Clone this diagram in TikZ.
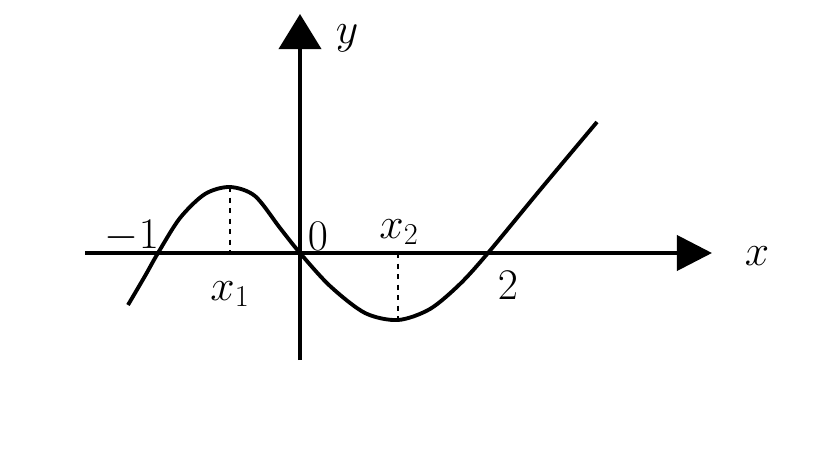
\documentclass[tikz,border=0pt]{standalone}
\usetikzlibrary{arrows.meta}
\begin{document}
\begin{tikzpicture}[x=0.02cm,y=-0.02cm,line width=2.2pt,
  lbl/.style={font=\fontsize{24}{26}\selectfont}]
  \useasboundingbox (0,0) rectangle (819,460);
  % axes
  \draw[-{Triangle[length=20pt,width=20pt]}] (85,253) -- (712,253);
  \draw[-{Triangle[length=20pt,width=24pt]}] (300,360) -- (300,14);
  % curve
  \draw plot[smooth,tension=0.5] coordinates {(128,305) (145,276) (158,253) (180,218) (205,194) (230,187) (255,196) (280,228) (300,253) (330,286) (365,313) (398,320) (430,309) (460,284) (488,253) (540,190) (597,122)};
  \draw[dashed,line width=1.5pt] (230,187) -- (230,253);
  \draw[dashed,line width=1.5pt] (398,253) -- (398,320);
  % labels
  \node[lbl] (m1) at (132,236) {$-1$};
  \node[lbl] (o) at (318,236) {$0$};
  \node[lbl] (x2) at (399,232) {$x_2$};
  \node[lbl] (x1) at (230,294) {$x_1$};
  \node[lbl] (t) at (508,285) {$2$};
  \node[lbl] (y) at (347,38) {$y$};
  \node[lbl] (x) at (757,256) {$x$};
\end{tikzpicture}
\end{document}
